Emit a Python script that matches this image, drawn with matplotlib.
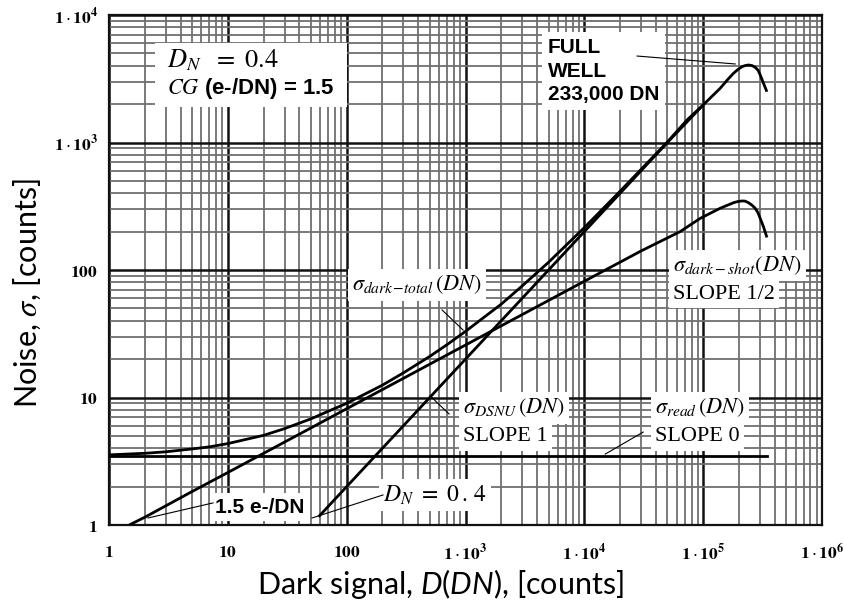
import matplotlib
matplotlib.use("Agg")
import matplotlib.pyplot as plt
from matplotlib.patches import Rectangle
from matplotlib.ticker import FixedLocator, LogLocator, NullFormatter

plt.rcParams['mathtext.fontset'] = 'stix'
plt.rcParams['mathtext.rm'] = 'Lato'
plt.rcParams['mathtext.it'] = 'Lato:italic'
plt.rcParams['mathtext.bf'] = 'Lato:bold'

# ---------------- data ----------------
total_x = [1, 2, 3, 5, 7, 10, 20, 30, 50, 70, 100, 200, 300, 500, 700, 1000,
           2000, 3000, 5000, 1e4, 2e4, 3e4, 5e4, 7.3e4, 1e5, 1.39e5, 1.6e5,
           1.8e5, 1.95e5, 2.12e5, 2.25e5, 2.41e5, 2.58e5, 2.74e5, 2.9e5,
           3.02e5, 3.22e5, 3.44e5]
total_y = [3.55, 3.65, 3.75, 3.95, 4.1, 4.35, 5.05, 5.7, 6.8, 7.8, 9.0, 12.5,
           15.6, 21, 26, 33, 54, 75, 115, 215, 415, 615, 1010, 1500, 1970,
           2660, 3100, 3490, 3720, 3930, 4010, 4055, 4010, 3890, 3680,
           3390, 2910, 2500]

shot_x = [1.48, 2, 5, 10, 100, 1000, 1e4, 3e4, 6.4e4, 9.44e4, 1.39e5, 1.6e5,
          1.8e5, 1.95e5, 2.12e5, 2.25e5, 2.41e5, 2.58e5, 2.74e5, 2.9e5,
          3.02e5, 3.22e5, 3.44e5]
shot_y = [1.0, 1.15, 1.83, 2.58, 8.16, 25.8, 81.6, 141, 200, 254, 305, 322,
          337, 344, 348, 347, 337, 322, 305, 280, 254, 218, 180]

dsnu_x = [58, 100, 1000, 1e4, 2e4, 5e4, 1e5]
dsnu_y = [1.16, 2.0, 20, 200, 400, 1000, 1970]

read_x = [1, 3.46e5]
read_y = [3.45, 3.45]

x_ticks = [1, 10, 100, 1e3, 1e4, 1e5, 1e6]
x_tick_labels = [r"$\mathbf{1}$", r"$\mathbf{10}$", r"$\mathbf{100}$",
                 r"$\mathbf{1}\cdot\mathbf{10}^{\mathbf{3}}$",
                 r"$\mathbf{1}\cdot\mathbf{10}^{\mathbf{4}}$",
                 r"$\mathbf{1}\cdot\mathbf{10}^{\mathbf{5}}$",
                 r"$\mathbf{1}\cdot\mathbf{10}^{\mathbf{6}}$"]
y_ticks = [1, 10, 100, 1e3, 1e4]
y_tick_labels = [r"$\mathbf{1}$", r"$\mathbf{10}$", r"$\mathbf{100}$",
                 r"$\mathbf{1}\cdot\mathbf{10}^{\mathbf{3}}$",
                 r"$\mathbf{1}\cdot\mathbf{10}^{\mathbf{4}}$"]

# ---------------- figure ----------------
fig = plt.figure(figsize=(8.44, 6.03), dpi=100)
ax = fig.add_axes([109/844, 1-525/603, (822-109)/844, (525-15)/603])
ax.set_xscale('log')
ax.set_yscale('log')
ax.set_xlim(1, 1e6)
ax.set_ylim(1, 1e4)

ax.xaxis.set_major_locator(FixedLocator(x_ticks))
ax.yaxis.set_major_locator(FixedLocator(y_ticks))
ax.set_xticklabels(x_tick_labels, math_fontfamily='stix')
ax.set_yticklabels(y_tick_labels, math_fontfamily='stix')
ax.xaxis.set_minor_locator(LogLocator(base=10, subs=range(2, 10), numticks=20))
ax.yaxis.set_minor_locator(LogLocator(base=10, subs=range(2, 10), numticks=20))
ax.xaxis.set_minor_formatter(NullFormatter())
ax.yaxis.set_minor_formatter(NullFormatter())
ax.tick_params(which='both', length=0)
ax.tick_params(axis='x', labelsize=12.5, pad=13)
ax.tick_params(axis='y', labelsize=12.5, pad=8)

ax.grid(which='minor', color='#707070', lw=1.3, zorder=0)
ax.grid(which='major', color='#111111', lw=1.8, zorder=0)
ax.set_axisbelow(True)
for s in ax.spines.values():
    s.set_linewidth(1.6)
    s.set_color('#111111')

lw = 2.0
ax.plot(read_x, read_y, color='black', lw=lw, zorder=3)
ax.plot(shot_x, shot_y, color='black', lw=lw, zorder=3, solid_capstyle='butt')
ax.plot(dsnu_x, dsnu_y, color='black', lw=lw, zorder=3, solid_capstyle='butt')
ax.plot(total_x, total_y, color='black', lw=lw, zorder=3, solid_capstyle='butt')

box = dict(facecolor='white', edgecolor='none', pad=3)
boldsans = dict(family='Liberation Sans', weight='bold', fontsize=15)

# upper-left box
ax.add_patch(Rectangle((2.44, 1898), 100.8 - 2.44, 6030 - 1898,
                       facecolor='white', edgecolor='none', zorder=1.5))
ax.text(3.08, 4436, r"$D_N\ \ =\ 0.4$", fontsize=19, va='center', ha='left',
        math_fontfamily='stix', zorder=2)
ax.text(3.08, 2675, r"$CG$ (e-/DN) = 1.5", va='center', ha='left',
        math_fontfamily='stix', zorder=2,
        family='Liberation Sans', weight='bold', fontsize=16)

# full well
ax.text(4955, 3637, "FULL\nWELL\n233,000 DN", va='center', ha='left',
        linespacing=1.3, bbox=dict(facecolor='white', edgecolor='none', pad=4),
        zorder=2, **boldsans)
ax.plot([2.78e4, 1.86e5], [4766, 4130], color='black', lw=0.8, zorder=3)

# dark total
ax.text(111, 76.3, r"$\sigma_{dark\!-\!total}\,(DN)$", fontsize=16, va='center', ha='left',
        math_fontfamily='stix', bbox=box, zorder=2)
ax.plot([635, 955], [48.6, 33.8], color='black', lw=0.8, zorder=3)

# dark shot
ax.text(5.59e4, 109, r"$\sigma_{dark-shot}(DN)$", fontsize=16, va='center', ha='left',
        math_fontfamily='stix', bbox=box, zorder=2)
ax.text(5.59e4, 64.8, "SLOPE 1/2", fontsize=16, va='center', ha='left',
        family='Liberation Serif', bbox=box, zorder=2)

# DSNU
ax.text(955, 8.27, r"$\sigma_{DSNU}\,(DN)$", fontsize=16, va='center', ha='left',
        math_fontfamily='stix', bbox=box, zorder=2)
ax.text(955, 4.9, "SLOPE 1", fontsize=16, va='center', ha='left',
        family='Liberation Serif', bbox=box, zorder=2)
ax.plot([504, 728], [10.3, 7.42], color='black', lw=0.8, zorder=3)

# read
ax.text(3.94e4, 8.27, r"$\sigma_{read}\,(DN)$", fontsize=16, va='center', ha='left',
        math_fontfamily='stix', bbox=box, zorder=2)
ax.text(3.94e4, 4.9, "SLOPE 0", fontsize=16, va='center', ha='left',
        family='Liberation Serif', bbox=box, zorder=2)
ax.plot([1.5e4, 3.13e4], [3.6, 5.36], color='black', lw=0.8, zorder=3)

# 1.5 e-/DN
ax.text(7.8, 1.38, "1.5 e-/DN", va='center', ha='left', bbox=box, zorder=2, **boldsans)
ax.plot([2.13, 7.5], [1.135, 1.49], color='black', lw=0.8, zorder=3)

# lower D_N
ax.text(202, 1.72, r"$D_N\ =\ 0\,.\,4$", fontsize=17, va='center', ha='left',
        math_fontfamily='stix', bbox=box, zorder=2)
ax.plot([51.2, 202], [1.135, 1.72], color='black', lw=0.8, zorder=3)

# axis labels
fig.text(440/844, 1-584/603, r"Dark signal, $\mathit{D(DN)}$, [counts]", ha='center', va='center',
         family='Lato', fontsize=22, math_fontfamily='custom')
fig.text(27/844, 1-293/603, r"Noise, $\sigma$, [counts]", ha='center', va='center',
         rotation=90, family='Lato', fontsize=22, math_fontfamily='stix')

fig.savefig("out.png", dpi=100, facecolor='white')
